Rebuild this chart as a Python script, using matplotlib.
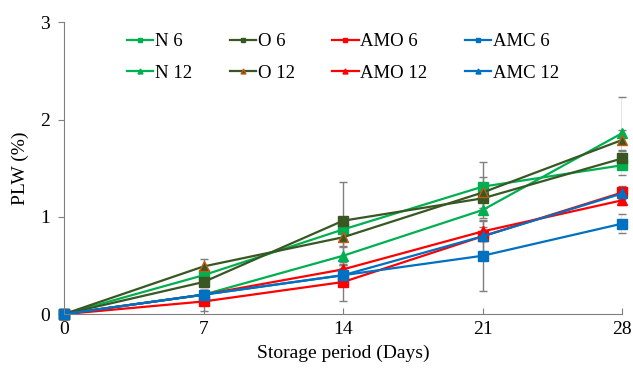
import matplotlib.pyplot as plt

plt.rcParams['font.family'] = ['Liberation Serif', 'DejaVu Serif']

# --- data ---
days = [0, 7, 14, 21, 28]
series_names = ['N 6', 'N 12', 'O 6', 'O 12', 'AMO 6', 'AMO 12', 'AMC 6', 'AMC 12']
n6 = [0, 0.40, 0.87, 1.31, 1.53]
n12 = [0, 0.20, 0.60, 1.07, 1.86]
o6 = [0, 0.33, 0.96, 1.19, 1.60]
o12 = [0, 0.49, 0.79, 1.25, 1.79]
amo6 = [0, 0.13, 0.33, 0.80, 1.25]
amo12 = [0, 0.20, 0.46, 0.85, 1.17]
amc6 = [0, 0.20, 0.40, 0.60, 0.93]
amc12 = [0, 0.20, 0.40, 0.80, 1.24]
# standard errors
n6_err = [0, 0.05, 0.10, 0.25, 0.10]
n12_err = [0, 0.05, 0.10, 0.08, 0.37]
o6_err = [0, 0.05, 0.40, 0.10, 0.08]
o12_err = [0, 0.08, 0.10, 0.16, 0.10]
amo6_err = [0, 0.10, 0.19, 0.05, 0.07]
amo12_err = [0, 0.05, 0.08, 0.05, 0.05]
amc6_err = [0, 0.05, 0.10, 0.36, 0.10]
amc12_err = [0, 0.05, 0.07, 0.17, 0.05]

GREEN = '#00B050'
DKGREEN = '#385723'
RED = '#FF0000'
BLUE = '#0070C0'

styles = [
    (n6, n6_err, GREEN, 's', GREEN),
    (n12, n12_err, GREEN, '^', GREEN),
    (o6, o6_err, DKGREEN, 's', DKGREEN),
    (o12, o12_err, DKGREEN, '^', '#C55A11'),
    (amo6, amo6_err, RED, 's', RED),
    (amo12, amo12_err, RED, '^', RED),
    (amc6, amc6_err, BLUE, 's', BLUE),
    (amc12, amc12_err, BLUE, '^', BLUE),
]

fig = plt.figure(figsize=(6.33, 3.7), dpi=100)
ax = fig.add_axes([0.101, 0.151, 0.882, 0.789])

for name, (vals, err, col, mk, edge) in zip(series_names, styles):
    ax.errorbar(days, vals, yerr=err, fmt='none', ecolor='#7f7f7f',
                elinewidth=1, capsize=3, capthick=1, zorder=1)
    ax.plot(days, vals, color=col, lw=1.6, marker=mk, markersize=6.5,
            markerfacecolor=col, markeredgecolor=edge, label=name, zorder=2)

ax.set_xlim(0, 28)
ax.set_ylim(0, 3)
ax.set_xticks(days)
ax.set_yticks([0, 1, 2, 3])
ax.set_xlabel('Storage period (Days)', fontsize=14, labelpad=5)
ax.set_ylabel('PLW (%)', fontsize=14, labelpad=8)
ax.tick_params(axis='y', direction='out', length=4, color='#7f7f7f', labelsize=14, pad=6)
ax.tick_params(axis='x', direction='in', length=4, color='#7f7f7f', labelsize=14, pad=5)
for s in ['top', 'right']:
    ax.spines[s].set_visible(False)
for s in ['left', 'bottom']:
    ax.spines[s].set_color('#7f7f7f')
for ln in ax.lines:
    ln.set_clip_on(False)

leg = ax.legend(ncol=4, loc='upper center', bbox_to_anchor=(0.5, 1.02),
                frameon=False, fontsize=13.5, handlelength=1.4, handletextpad=0.1,
                columnspacing=2.0, labelspacing=0.75, markerscale=0.55)

fig.savefig('out.png', dpi=100)
